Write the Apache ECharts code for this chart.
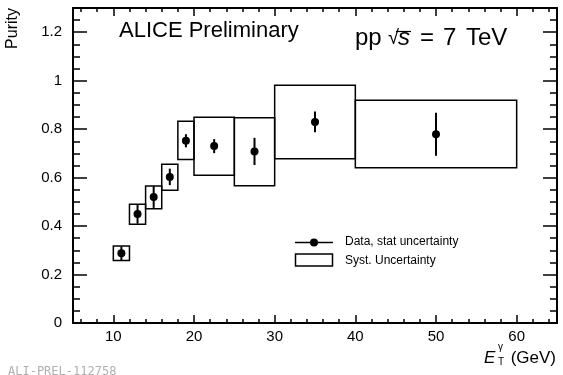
<!DOCTYPE html>
<html>
<head>
<meta charset="utf-8">
<script src="https://cdn.jsdelivr.net/npm/echarts@6/dist/echarts.min.js"></script>
<style>
  html, body { margin: 0; padding: 0; background: #fff; }
  #chart { width: 563px; height: 375px; }
</style>
</head>
<body>
<div id="chart"></div>
<script>
// bins (GeV)
const binLo = [10, 12, 14, 16, 18, 20, 25, 30, 40];
const binHi = [12, 14, 16, 18, 20, 25, 30, 40, 60];
const ptX = [11, 13, 15, 17, 19, 22.5, 27.5, 35, 50];
// purity + uncertainties
const purity = [0.288, 0.45, 0.52, 0.603, 0.752, 0.73, 0.708, 0.83, 0.779];
const statErr = [0.028, 0.04, 0.045, 0.034, 0.027, 0.029, 0.056, 0.043, 0.089];
const systLo = [0.258, 0.408, 0.472, 0.548, 0.675, 0.61, 0.566, 0.678, 0.641];
const systHi = [0.318, 0.49, 0.565, 0.655, 0.833, 0.849, 0.847, 0.981, 0.919];
// tick labels
const xMajor = [10, 20, 30, 40, 50, 60];
const xMinor = [6, 8, 12, 14, 16, 18, 22, 24, 26, 28, 32, 34, 36, 38, 42, 44, 46, 48, 52, 54, 56, 58, 62, 64];
const yMajor = [0, 0.2, 0.4, 0.6, 0.8, 1, 1.2];
const yMinor = [0.05, 0.1, 0.15, 0.25, 0.3, 0.35, 0.45, 0.5, 0.55, 0.65, 0.7, 0.75, 0.85, 0.9, 0.95, 1.05, 1.1, 1.15, 1.25];

const FONT = '"Liberation Sans", Arial, Helvetica, sans-serif';
const chart = echarts.init(document.getElementById('chart'), null, { renderer: 'canvas' });

const lineStyle = { color: '#000', width: 2 };
const tickStyle = { color: '#000', width: 1.5 };

function xAx(pos, ticks, len, showLine, showLabel) {
  return {
    type: 'value', position: pos, min: 5, max: 65,
    splitLine: { show: false },
    axisLine: { show: showLine, onZero: false, lineStyle: lineStyle },
    axisTick: { show: true, inside: true, length: len, customValues: ticks, lineStyle: tickStyle },
    axisLabel: { show: showLabel, customValues: ticks, margin: 6, color: '#000', fontSize: 15, fontFamily: FONT },
  };
}
function yAx(pos, ticks, len, showLine, showLabel) {
  return {
    type: 'value', position: pos, min: 0, max: 1.3,
    splitLine: { show: false },
    axisLine: { show: showLine, onZero: false, lineStyle: lineStyle },
    axisTick: { show: true, inside: true, length: len, customValues: ticks, lineStyle: tickStyle },
    axisLabel: { show: showLabel, customValues: ticks, margin: 11, color: '#000', fontSize: 15, fontFamily: FONT },
  };
}

const txt = (x, y, s, font, extra) => ({
  type: 'text', x: x, y: y,
  style: Object.assign({ text: s, font: font, fill: '#000', verticalAlign: 'top' }, extra || {}),
});

const option = {
  animation: false,
  backgroundColor: '#fff',
  grid: { left: 73, right: 6, top: 8, bottom: 52, outerBoundsMode: 'none' },
  xAxis: [
    xAx('bottom', xMajor, 8, true, true),
    xAx('bottom', xMinor, 4, false, false),
    xAx('top', xMajor, 8, true, false),
    xAx('top', xMinor, 4, false, false),
  ],
  yAxis: [
    yAx('left', yMajor, 14, true, true),
    yAx('left', yMinor, 7, false, false),
    yAx('right', yMajor, 14, true, false),
    yAx('right', yMinor, 7, false, false),
  ],
  series: [
    {
      name: 'Syst. Uncertainty',
      type: 'custom',
      xAxisIndex: 0, yAxisIndex: 0,
      data: binLo.map((lo, i) => [lo, binHi[i], systLo[i], systHi[i]]),
      renderItem: (params, api) => {
        const p1 = api.coord([api.value(0), api.value(3)]);
        const p2 = api.coord([api.value(1), api.value(2)]);
        return {
          type: 'rect',
          shape: { x: p1[0], y: p1[1], width: p2[0] - p1[0], height: p2[1] - p1[1] },
          style: { fill: 'none', stroke: '#000', lineWidth: 1.5 },
        };
      },
    },
    {
      name: 'stat',
      type: 'custom',
      xAxisIndex: 0, yAxisIndex: 0,
      data: ptX.map((x, i) => [x, purity[i] - statErr[i], purity[i] + statErr[i]]),
      renderItem: (params, api) => {
        const a = api.coord([api.value(0), api.value(1)]);
        const b = api.coord([api.value(0), api.value(2)]);
        return {
          type: 'line',
          shape: { x1: a[0], y1: a[1], x2: b[0], y2: b[1] },
          style: { stroke: '#000', lineWidth: 2 },
        };
      },
    },
    {
      name: 'Data, stat uncertainty',
      type: 'scatter',
      xAxisIndex: 0, yAxisIndex: 0,
      symbol: 'circle',
      symbolSize: 8,
      itemStyle: { color: '#000', opacity: 1 },
      data: ptX.map((x, i) => [x, purity[i]]),
    },
  ],
  graphic: [
    txt(119, 20, 'ALICE Preliminary', '22px ' + FONT),
    // pp sqrt(s) = 7 TeV
    txt(355, 26, 'pp', '24px ' + FONT),
    txt(388, 28, '√', '20px ' + FONT),
    txt(398, 26, 's', 'italic 24px ' + FONT),
    { type: 'line', shape: { x1: 396, y1: 31.5, x2: 411, y2: 31.5 }, style: { stroke: '#000', lineWidth: 1.2 } },
    txt(420, 26, '=', '24px ' + FONT),
    txt(443, 26, '7', '24px ' + FONT),
    txt(466, 26, 'TeV', '24px ' + FONT),
    { type: 'text', x: 13, y: 8, rotation: Math.PI / 2, style: { text: 'Purity', font: '16px ' + FONT, fill: '#000', align: 'right', verticalAlign: 'middle' } },
    // x axis title
    txt(484, 350, 'E', 'italic 17px ' + FONT),
    txt(498, 342, 'γ', '10px ' + FONT),
    txt(498, 357, 'T', '10px ' + FONT),
    txt(556, 350, '(GeV)', '17px ' + FONT, { align: 'right' }),
    // legend
    { type: 'line', shape: { x1: 295, y1: 242.5, x2: 333, y2: 242.5 }, style: { stroke: '#000', lineWidth: 1.5 } },
    { type: 'circle', shape: { cx: 314, cy: 242.5, r: 4 }, style: { fill: '#000' } },
    txt(345, 242, 'Data, stat uncertainty', '12px ' + FONT, { verticalAlign: 'middle' }),
    { type: 'rect', shape: { x: 295.5, y: 254, width: 37, height: 12 }, style: { fill: 'none', stroke: '#000', lineWidth: 1.5 } },
    txt(345, 261, 'Syst. Uncertainty', '12px ' + FONT, { verticalAlign: 'middle' }),
    // watermark
    txt(8, 366, 'ALI-PREL-112758', '12px "DejaVu Sans Mono", monospace', { fill: '#b0b0b0' }),
  ],
};

chart.setOption(option);
window.addEventListener('resize', () => chart.resize());
</script>
</body>
</html>
